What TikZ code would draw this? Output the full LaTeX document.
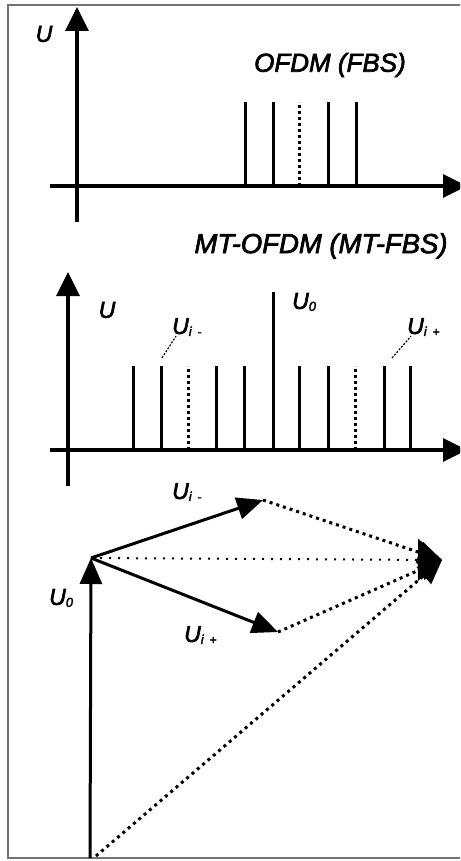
\documentclass[tikz,border=0pt]{standalone}
\usepackage{fontspec}
\setmainfont{Liberation Sans}
\newfontfamily\fbfont[FakeBold=2.5]{Liberation Sans}
\usetikzlibrary{arrows.meta}
\tikzset{
  axisline/.style={line width=3.2pt,-{Triangle[length=24pt,width=23pt]}},
  specline/.style={line width=3pt},
  specdot/.style={line width=3pt,dash pattern=on 3pt off 3pt},
  vecline/.style={line width=3pt,-{Triangle[length=26pt,width=22pt]}},
  resdot/.style={line width=3pt,dash pattern=on 3pt off 4pt},
  thindot/.style={line width=2pt,dash pattern=on 2pt off 7pt},
  leader/.style={line width=1.2pt,dash pattern=on 2pt off 1.5pt},
  lbl/.style={inner sep=0pt,font=\fbfont\fontsize{23}{23}\selectfont\itshape},
  ttl/.style={inner sep=0pt,font=\fbfont\fontsize{26}{26}\selectfont\itshape},
  frame/.style={line width=1.5pt,draw=black!55},
  smallhead/.style={-{Triangle[length=24pt,width=22pt]}}
}
\newcommand{\subs}[1]{{\fontsize{13}{13}\selectfont\raisebox{-2pt}{#1}}}
\newcommand{\sgn}[1]{{\fontsize{12}{12}\selectfont\raisebox{-2pt}{\upshape #1}}}
\begin{document}
\begin{tikzpicture}[x=1pt,y=-1pt]
\useasboundingbox (0,0) rectangle (460,861);
\clip (0,0) rectangle (460,861);
\draw[frame] (8,5) rectangle (470,858);
% ---------- panel 1
\coordinate (a1b) at (77,222);
\coordinate (a1t) at (77,7);
\coordinate (h1l) at (50,186);
\coordinate (h1r) at (467,186);
\draw[axisline] (a1b) -- (a1t);
\draw[axisline] (h1l) -- (h1r);
\foreach \x in {245,273,328,356}{
  \draw[specline] (\x,186) -- (\x,102);
}
\draw[specdot] (299,186) -- (299,102);
\node[lbl] (u1) at (44,34) {U};
\node[ttl] (t1) at (330,65) {OFDM (FBS)};
% ---------- panel 2
\node[ttl,font=\fbfont\fontsize{27.5}{28}\selectfont\itshape] (t2) at (321,246) {MT-OFDM (MT-FBS)};
\coordinate (a2b) at (68,486);
\coordinate (a2t) at (68,272);
\coordinate (h2l) at (50,450);
\coordinate (h2r) at (467,450);
\draw[axisline] (a2b) -- (a2t);
\draw[axisline] (h2l) -- (h2r);
\foreach \x in {133,161,216,244,299,328,384,410}{
  \draw[specline] (\x,450) -- (\x,366);
}
\foreach \x in {188,355}{
  \draw[specdot] (\x,450) -- (\x,366);
}
\draw[specline] (273,450) -- (273,292);
\node[lbl] (u2) at (107,310) {U};
\node[lbl,anchor=west] (u0a) at (292,302) {U\subs{0}};
\node[lbl,anchor=west] (uima) at (172,327) {U\subs{i}\hspace{6pt}\sgn{-}};
\node[lbl,anchor=west] (uipa) at (407,327) {U\subs{i}\hspace{6pt}\sgn{+}};
\coordinate (lm) at (162,358);
\coordinate (lp) at (392,358);
\draw[leader] (lm) -- ([xshift=4pt]uima.south west);
\draw[leader] (lp) -- ([xshift=4pt]uipa.south west);
% ---------- panel 3
\coordinate (o) at (90,858);
\coordinate (p0) at (91,558);
\coordinate (pm) at (263,500);
\coordinate (pp) at (278,632);
\coordinate (r) at (442,560);
\coordinate (od) at (96,856);
\draw[resdot,smallhead] (od) -- (r);
\draw[resdot,smallhead] (pm) -- (r);
\draw[resdot,smallhead] (pp) -- (r);
\draw[thindot,-{Triangle[length=24pt,width=42pt]}] (p0) -- (r);
\draw[vecline] (o) -- (p0);
\draw[vecline] (p0) -- (pm);
\draw[vecline] (p0) -- (pp);
\node[lbl,anchor=west] (uimb) at (172,492) {U\subs{i}\hspace{6pt}\sgn{-}};
\node[lbl,anchor=west] (u0b) at (49,598) {U\subs{0}};
\node[lbl,anchor=west] (uipb) at (184,635) {U\subs{i}\hspace{6pt}\sgn{+}};
\end{tikzpicture}
\end{document}
